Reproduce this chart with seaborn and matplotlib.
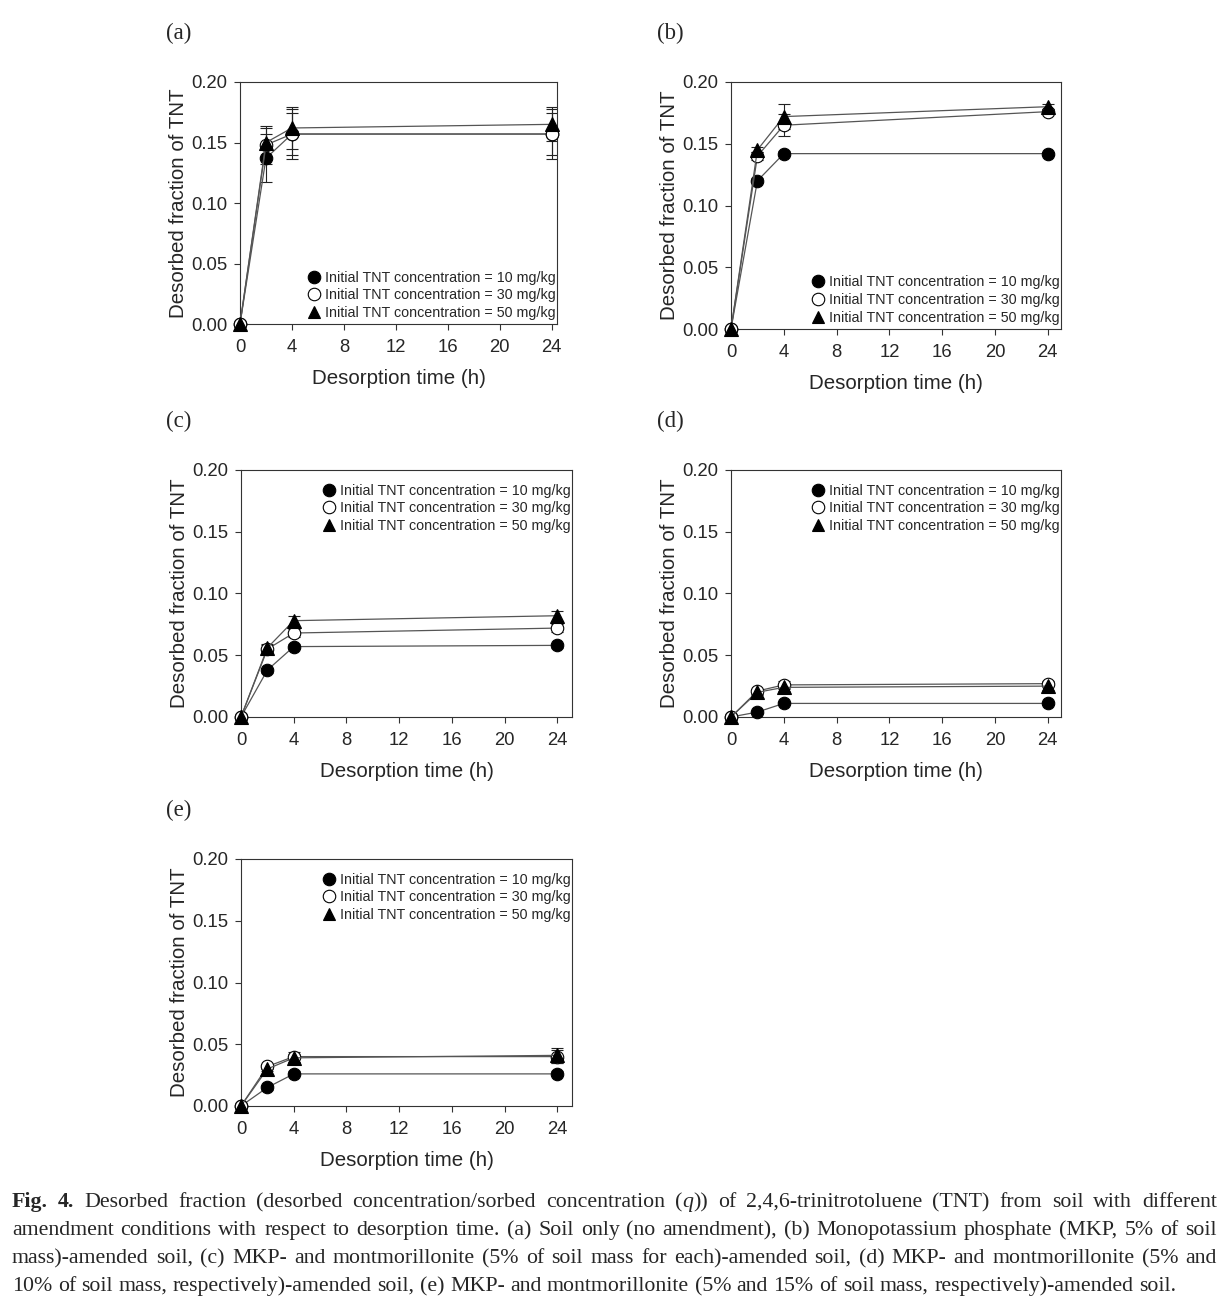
import numpy as np
import pandas as pd
import seaborn as sns
import matplotlib.pyplot as plt
from matplotlib.lines import Line2D

sns.set_theme(style="ticks")
plt.rcParams["font.family"] = ["Liberation Sans", "DejaVu Sans"]

times = [0, 2, 4, 24]
labels = [
    "Initial TNT concentration = 10 mg/kg",
    "Initial TNT concentration = 30 mg/kg",
    "Initial TNT concentration = 50 mg/kg",
]

# (a) soil only
a_10 = [0, 0.137, 0.157, 0.157]
a_30 = [0, 0.148, 0.157, 0.157]
a_50 = [0, 0.150, 0.162, 0.165]
a_10_err = [0, 0.020, 0.017, 0.017]
a_30_err = [0, 0.016, 0.021, 0.021]
a_50_err = [0, 0.012, 0.017, 0.014]

# (b) MKP
b_10 = [0, 0.120, 0.142, 0.142]
b_30 = [0, 0.140, 0.165, 0.176]
b_50 = [0, 0.145, 0.172, 0.180]
b_10_err = [0, 0.002, 0.002, 0.001]
b_30_err = [0, 0.003, 0.009, 0.002]
b_50_err = [0, 0.002, 0.010, 0.002]

# (c) MKP + montmorillonite 5%
c_10 = [0, 0.038, 0.057, 0.058]
c_30 = [0, 0.055, 0.068, 0.072]
c_50 = [0, 0.056, 0.078, 0.082]
c_10_err = [0, 0.002, 0.002, 0.002]
c_30_err = [0, 0.003, 0.003, 0.003]
c_50_err = [0, 0.003, 0.004, 0.004]

# (d) MKP + montmorillonite 10%
d_10 = [0, 0.004, 0.011, 0.011]
d_30 = [0, 0.021, 0.026, 0.027]
d_50 = [0, 0.020, 0.024, 0.025]
d_10_err = [0, 0.001, 0.001, 0.001]
d_30_err = [0, 0.002, 0.003, 0.002]
d_50_err = [0, 0.002, 0.003, 0.003]

# (e) MKP + montmorillonite 15%
e_10 = [0, 0.015, 0.026, 0.026]
e_30 = [0, 0.032, 0.040, 0.040]
e_50 = [0, 0.030, 0.039, 0.041]
e_10_err = [0, 0.002, 0.002, 0.002]
e_30_err = [0, 0.002, 0.004, 0.005]
e_50_err = [0, 0.002, 0.003, 0.006]

panels = [
    ("(a)", [a_10, a_30, a_50], [a_10_err, a_30_err, a_50_err], "lower right", 24.4),
    ("(b)", [b_10, b_30, b_50], [b_10_err, b_30_err, b_50_err], "lower right", 25.0),
    ("(c)", [c_10, c_30, c_50], [c_10_err, c_30_err, c_50_err], "upper right", 25.1),
    ("(d)", [d_10, d_30, d_50], [d_10_err, d_30_err, d_50_err], "upper right", 25.0),
    ("(e)", [e_10, e_30, e_50], [e_10_err, e_30_err, e_50_err], "upper right", 25.1),
]

W, H = 1227, 1305
# axes boxes in pixels: left, top, right, bottom
boxes = [
    (240, 82, 557, 324),
    (731, 82, 1061, 329),
    (241, 470, 572, 717),
    (731, 470, 1061, 717),
    (241, 859, 572, 1106),
]
label_pos = [(179, 33), (670, 33), (179, 421), (670, 421), (179, 810)]

styles = [
    dict(marker="o", markerfacecolor="black"),
    dict(marker="o", markerfacecolor="white"),
    dict(marker="^", markerfacecolor="black"),
]

fig = plt.figure(figsize=(W / 100, H / 100), dpi=100)

for (name, series, errs, loc, xmax), (l, t, r, b), (lx, ly) in zip(panels, boxes, label_pos):
    ax = fig.add_axes([l / W, 1 - b / H, (r - l) / W, (b - t) / H])
    for vals, err, st, lab in zip(series, errs, styles, labels):
        df = pd.DataFrame({"time": times, "frac": vals})
        ax.errorbar(times, vals, yerr=err, fmt="none", ecolor="#222222",
                    elinewidth=0.8, capsize=4, capthick=0.8, zorder=2)
        sns.lineplot(data=df, x="time", y="frac", ax=ax, color="#555555",
                     linewidth=0.9, markersize=9 if st["marker"] == "o" else 9.5,
                     markeredgecolor="black", markeredgewidth=0.8,
                     clip_on=False, zorder=3, **st)
    ax.set_xlim(0, xmax)
    ax.set_ylim(0, 0.20)
    ax.set_xticks([0, 4, 8, 12, 16, 20, 24])
    ax.set_yticks([0, 0.05, 0.10, 0.15, 0.20])
    ax.set_yticklabels(["0.00", "0.05", "0.10", "0.15", "0.20"])
    ax.tick_params(axis="both", direction="out", length=4, width=0.8,
                   labelsize=13.3, color="#333333", pad=5)
    ax.tick_params(axis="x", pad=7)
    for sp in ax.spines.values():
        sp.set_linewidth(0.8)
        sp.set_color("#333333")
    ax.set_xlabel("Desorption time (h)", fontsize=14.8, labelpad=9)
    ax.set_ylabel("Desorbed fraction of TNT", fontsize=14.8, labelpad=2)

    handles = [
        Line2D([], [], linestyle="none", marker=st["marker"], markersize=9,
               markerfacecolor=st["markerfacecolor"], markeredgecolor="black",
               markeredgewidth=0.8)
        for st in styles
    ]
    anchor = (1.0, 0.95) if loc == "upper right" else (1.0, 0.012)
    ax.legend(handles, labels, loc=loc, bbox_to_anchor=anchor, frameon=False,
              fontsize=10.3, handlelength=0.8, handletextpad=0.35,
              labelspacing=0.25, borderaxespad=0.0, borderpad=0.1)

    fig.text(lx / W, 1 - ly / H, name, ha="center", va="center",
             fontsize=16.5, family="Liberation Serif")

# caption, justified like the journal text
cap_lines = [
    [[("Fig.", "bold", "normal")], [("4.", "bold", "normal")]]
    + [[(w, "normal", "normal")] for w in "Desorbed fraction".split()]
    + [[("(desorbed", "normal", "normal")]]
    + [[("concentration/sorbed", "normal", "normal")]]
    + [[("concentration", "normal", "normal")]]
    + [[("(", "normal", "normal"), ("q", "normal", "italic"), ("))", "normal", "normal")]]
    + [[(w, "normal", "normal")] for w in "of 2,4,6-trinitrotoluene (TNT) from soil with different".split()],
    [[(w, "normal", "normal")] for w in
     "amendment conditions with respect to desorption time. (a) Soil only (no amendment), (b) Monopotassium phosphate (MKP, 5% of soil".split()],
    [[(w, "normal", "normal")] for w in
     "mass)-amended soil, (c) MKP- and montmorillonite (5% of soil mass for each)-amended soil, (d) MKP- and montmorillonite (5% and".split()],
    [[(w, "normal", "normal")] for w in
     "10% of soil mass, respectively)-amended soil, (e) MKP- and montmorillonite (5% and 15% of soil mass, respectively)-amended soil.".split()],
]
cap_y = [1207, 1235, 1263, 1291]
cap_left, cap_right = 12, 1217
cap_fs = 15.75

renderer = fig.canvas.get_renderer()


def seg_width(txt, weight, style):
    t = fig.text(0, 0, txt, fontsize=cap_fs, family="Liberation Serif",
                 weight=weight, style=style)
    wpx = t.get_window_extent(renderer).width
    t.remove()
    return wpx


space_w = seg_width("a a", "normal", "normal") - seg_width("aa", "normal", "normal")

for i, (words, y) in enumerate(zip(cap_lines, cap_y)):
    widths = [sum(seg_width(*s) for s in w) for w in words]
    if i < len(cap_lines) - 1:
        gap = (cap_right - cap_left - sum(widths)) / (len(words) - 1)
    else:
        gap = space_w
    x = cap_left
    for w, ww in zip(words, widths):
        xs = x
        for txt, weight, style in w:
            fig.text(xs / W, 1 - y / H, txt, fontsize=cap_fs, family="Liberation Serif",
                     weight=weight, style=style, ha="left", va="baseline")
            xs += seg_width(txt, weight, style)
        x += ww + gap

fig.savefig("out.png", dpi=100)
